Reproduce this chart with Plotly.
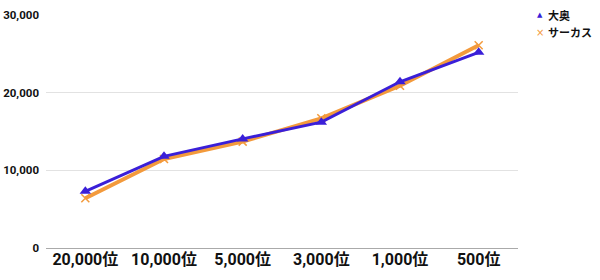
import plotly.graph_objects as go

categories = ["20,000位", "10,000位", "5,000位", "3,000位", "1,000位", "500位"]
ooku = [7300, 11800, 14050, 16200, 21400, 25200]
circus = [6400, 11450, 13700, 16700, 20900, 26100]
y_ticks = [0, 10000, 20000, 30000]
y_labels = ["0", "10,000", "20,000", "30,000"]
series_names = ["大奥", "サーカス"]

BLUE = "#3a1fd8"
ORANGE = "#f39a3c"

fig = go.Figure()
fig.add_trace(go.Scatter(
    x=categories, y=circus, name=series_names[1], mode="lines+markers", showlegend=False,
    line=dict(color=ORANGE, width=4),
    marker=dict(symbol="x-thin", size=8, line=dict(color=ORANGE, width=1.5), color=ORANGE),
))
fig.add_trace(go.Scatter(
    x=categories, y=ooku, name=series_names[0], mode="lines+markers", showlegend=False,
    line=dict(color=BLUE, width=3),
    marker=dict(symbol="triangle-up", size=10, color=BLUE),
))

# custom legend (marker glyph + label)
legend_items = [("▲", BLUE, 7, series_names[0], 15), ("×", ORANGE, 10, series_names[1], 32)]
for glyph, col, gsize, label, ypx in legend_items:
    yp = 1 - (ypx - 15) / 233.0
    fig.add_annotation(xref="paper", yref="paper", x=(540 - 46) / 472.0, y=yp,
                       text=glyph, showarrow=False, xanchor="center", yanchor="middle",
                       font=dict(size=gsize, color=col, family="DejaVu Sans"))
    fig.add_annotation(xref="paper", yref="paper", x=(546 - 46) / 472.0, y=yp,
                       text=label, showarrow=False, xanchor="left", yanchor="middle",
                       font=dict(size=11, color="#111", family="'Noto Sans CJK JP', sans-serif", weight="bold"))

fig.update_layout(
    width=600, height=280,
    margin=dict(l=46, r=82, t=15, b=32, autoexpand=False),
    paper_bgcolor="white", plot_bgcolor="white",
    font=dict(family="Roboto, 'Noto Sans CJK JP', sans-serif", color="#222"),
    showlegend=False,
)
fig.update_xaxes(
    type="category", range=[-0.5, 5.5], showgrid=False, zeroline=False,
    showline=False, ticks="",
    tickfont=dict(size=16, color="#111", family="Roboto, 'Noto Sans CJK JP', sans-serif", weight="bold"),
)
fig.update_yaxes(
    range=[0, 30000], tickvals=y_ticks, ticktext=y_labels,
    showgrid=True, gridcolor="#e2e2e2", gridwidth=1,
    zeroline=True, zerolinecolor="#aaaaaa", zerolinewidth=1,
    tickfont=dict(size=11.5, color="#111", family="Roboto, sans-serif", weight="bold"),
    ticks="", ticklabelstandoff=6,
)
fig.write_html("out.html")
